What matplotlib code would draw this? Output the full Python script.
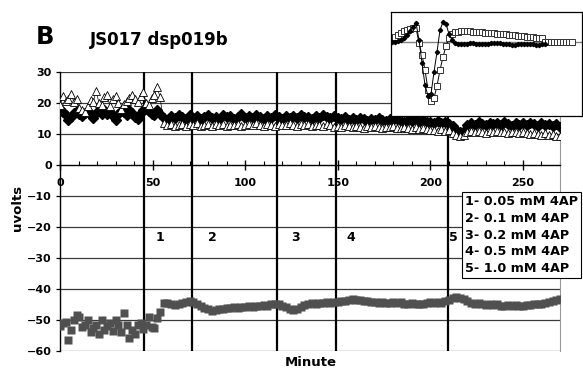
import numpy as np
import matplotlib
matplotlib.use("Agg")
import matplotlib.pyplot as plt
from matplotlib.ticker import MultipleLocator

plt.rcParams["font.family"] = ["DejaVu Sans"]
plt.rcParams["font.weight"] = "bold"

# sampling times (minutes): sparser before drug, then every 2 min
minutes_pre = np.arange(0, 55, 1.5)
minutes_post = np.arange(56, 271, 2)

diamonds_pre = [18.0, 17.2, 16.0, 14.6, 15.5, 16.8, 17.5, 16.4, 15.8, 16.9,
                17.4, 16.2, 15.2, 16.7, 17.3, 16.5, 17.8, 16.3, 17.0, 15.9,
                14.5, 16.6, 17.4, 17.0, 16.1, 17.6, 16.8, 15.6, 14.8, 16.9,
                17.8, 18.2, 17.3, 16.4, 16.0, 17.7, 16.5]
diamonds_post = [15.2, 14.6, 15.8, 15.0, 16.2, 15.4, 14.8, 16.0, 15.3, 15.9,
                 14.7, 15.6, 16.1, 15.0, 15.5, 14.9, 16.0, 15.4, 15.8, 14.8,
                 15.6, 16.3, 15.1,
                 15.7, 15.0, 16.2, 15.4, 14.9, 15.8, 15.2, 16.0, 15.5, 14.8,
                 15.9, 15.3, 15.7, 15.0, 16.1, 15.4, 15.6, 14.9, 15.8, 15.2,
                 16.2, 15.5, 15.0, 15.7, 15.3,
                 14.8, 15.4, 14.6, 15.1, 14.4, 15.0, 14.7, 14.2, 14.9, 14.5,
                 15.2, 14.6, 14.1, 14.8, 14.4, 14.9, 14.3, 14.0, 14.6, 14.2,
                 14.7, 13.9, 14.4, 14.0, 13.8,
                 13.6, 14.1, 13.4, 13.9, 13.3, 12.6, 11.2, 10.6, 11.0, 12.8,
                 13.6, 13.0, 14.0, 13.3, 12.8, 13.7, 13.1, 13.5, 12.9, 13.8,
                 13.2, 12.7, 13.6, 13.0, 13.4, 12.8, 13.5, 13.1, 12.6, 13.4,
                 13.0, 13.3, 12.7, 13.2, 12.4]

triangles_pre = [19.2, 22.1, 20.5, 21.3, 23.0, 20.2, 21.4, 18.3, 17.6, 17.0,
                 19.0, 21.0, 20.4, 24.0, 20.1, 19.3, 21.8, 22.6, 19.0, 21.2,
                 22.3, 20.1, 18.1, 19.8, 20.6, 21.7, 22.5, 21.3, 20.4, 22.2,
                 23.4, 20.1, 19.2, 21.6, 22.7, 25.0, 22.0]
triangles_post = [13.4, 12.8, 13.2, 12.5, 13.0, 13.3, 12.6, 13.1, 12.9, 13.4,
                  12.7, 13.0, 13.2, 12.5, 13.1, 12.8, 13.3, 12.6, 13.0, 12.9,
                  13.2, 12.7, 13.0,
                  13.1, 12.8, 13.4, 12.9, 12.6, 13.2, 13.0, 12.7, 13.3, 12.8,
                  13.0, 13.4, 12.9, 12.6, 13.1, 12.8, 13.2, 12.7, 13.0, 12.9,
                  12.5, 13.1, 12.8, 12.4, 12.7,
                  12.3, 12.8, 12.5, 12.1, 12.6, 12.4, 12.0, 12.5, 12.2, 12.6,
                  12.3, 11.9, 12.4, 12.1, 12.5, 12.0, 11.8, 12.3, 12.0, 11.7,
                  12.1, 11.6, 11.9, 11.5, 11.3,
                  11.4, 11.0, 11.5, 10.9, 11.2, 10.4, 9.6, 9.2, 9.8, 10.8,
                  11.0, 10.6, 11.1, 10.7, 10.4, 10.9, 10.6, 11.0, 10.5, 10.8,
                  10.3, 10.7, 10.5, 10.2, 10.6, 10.3, 10.0, 10.4, 10.1, 9.8,
                  10.2, 9.7, 9.9, 9.5, 9.2]

squares_pre = [-52.0, -51.1, -50.6, -56.5, -53.2, -50.0, -48.4, -49.0, -52.4, -51.6,
               -50.0, -53.8, -52.5, -51.6, -54.5, -50.0, -53.2, -52.0, -51.0, -53.6,
               -50.0, -51.6, -53.8, -47.8, -51.6, -55.8, -53.2, -54.4, -51.6, -51.0,
               -53.0, -51.6, -49.0, -52.2, -52.6, -49.4, -47.3]
squares_post = [-44.5, -44.6, -44.9, -45.1, -44.8, -44.6, -44.2, -44.0, -44.3, -44.8,
                -45.4, -46.0, -46.6, -47.0,
                -46.7, -46.3, -46.5, -46.0, -46.2, -45.8, -46.0, -45.7, -45.9, -45.5,
                -45.7, -45.4, -45.6, -45.2, -45.4, -45.0, -44.8,
                -45.0, -45.4, -45.9, -46.3, -46.8, -46.4, -45.8, -45.3, -44.9, -44.6,
                -44.8, -44.4, -44.6, -44.2, -44.5, -44.1, -44.3,
                -44.0, -43.8, -43.5, -43.3, -43.6, -43.4, -43.8, -44.0, -44.3, -44.1,
                -44.4, -44.2, -44.6, -44.4, -44.2, -44.5, -44.3, -44.7, -44.9, -44.6,
                -44.8, -45.0, -44.7, -44.5, -44.3,
                -44.5, -44.2, -44.6, -44.0, -43.6, -43.0, -42.6, -42.8, -43.3, -43.9,
                -44.4, -44.8, -44.6, -44.9, -45.1, -44.8, -45.2, -45.0, -45.4, -45.6,
                -45.3, -45.5, -45.2, -45.6, -45.4, -45.1, -45.3, -45.0, -44.8, -45.0,
                -44.6, -44.3, -44.0, -43.6, -43.2]

# drug application times and labels
drug_times = [45.4, 71.1, 117.3, 148.9, 209.3]
drug_labels = ["1", "2", "3", "4", "5"]
drug_label_x = [54, 82.2, 127, 156.8, 212.3]
legend_lines = ["1- 0.05 mM 4AP", "2- 0.1 mM 4AP", "3- 0.2 mM 4AP",
                "4- 0.5 mM 4AP", "5- 1.0 mM 4AP"]

# inset waveform (arbitrary units, baseline = 0)
inset_black = [0, 0, 1, 2, 4, 7, 11, 15, 19, 2, -21, -43, -54, -52, -30, -10, 12, 20, 18, 8,
               2, -1, -2, -2, -2, -1.5, -1, -1, -1.5, -2, -2, -2, -1.5, -1, -0.5, -0.5,
               -1, -1.5, -2, -2, -2.5, -2.5, -2, -2, -1.5, -1.5, -2, -2, -2.5, -2.5, -2, -2]
inset_white = [3, 5, 7, 9, 11, 12, 13, 14, 14, -1, -13, -28, -48, -59, -56, -44, -28, -15, -4, 4,
               8, 10, 10.5, 11, 11,
               11, 11, 10.5, 10.5, 10, 10, 9.5, 9.5, 9, 9, 8.5, 8.5, 8, 8, 7.5, 7, 7, 6.5,
               6, 6, 5.5, 5, 5, 4.5, 4.5, 4,
               0.5, 0.5, 0.5, 0.5, 0.5, 0.5, 0.5, 0.5, 0.5, 0.5]

minutes = np.concatenate([minutes_pre, minutes_post])
diamonds = diamonds_pre + diamonds_post
triangles = triangles_pre + triangles_post
squares = squares_pre + squares_post

fig = plt.figure(figsize=(5.83, 3.79), dpi=100)
ax = fig.add_axes([60 / 583, 1 - 351 / 379, 500 / 583, 279 / 379])

ax.set_xlim(0, 270)
ax.set_ylim(-60, 30)

for yv in range(-60, 31, 10):
    if yv != 0:
        ax.axhline(yv, color="#3a3a3a", lw=0.9, zorder=1)
for t in drug_times:
    ax.axvline(t, color="black", lw=1.6, zorder=2)

ax.plot(minutes, diamonds, "D", ms=4.6, color="black", zorder=3)
ax.plot(minutes, triangles, "-^", ms=5.6, color="black", lw=0.5,
        mfc="white", mec="black", mew=0.6, zorder=4)
ax.plot(minutes, squares, "s", ms=5.4, color="#505050", mec="none", zorder=3)

for x, lab in zip(drug_label_x, drug_labels):
    ax.text(x, -23.3, lab, ha="center", va="center", fontsize=9, fontweight="bold")

ax.spines["top"].set_visible(False)
ax.spines["right"].set_color("#999999")
ax.spines["right"].set_linewidth(0.8)
ax.spines["bottom"].set_position(("data", 0))
ax.spines["bottom"].set_linewidth(1.0)
ax.spines["left"].set_linewidth(1.0)

ax.xaxis.set_major_locator(MultipleLocator(50))
ax.xaxis.set_minor_locator(MultipleLocator(10))
ax.yaxis.set_major_locator(MultipleLocator(10))
ax.tick_params(axis="x", which="major", direction="inout", length=7, width=1,
               pad=6, labelsize=8)
ax.tick_params(axis="x", which="minor", direction="in", length=3, width=0.8)
ax.tick_params(axis="y", direction="out", length=3, width=0.9, pad=3, labelsize=8)
for lbl in ax.get_xticklabels() + ax.get_yticklabels():
    lbl.set_fontweight("bold")

fig.text(18 / 583, 1 - 208 / 379, "uvolts", rotation=90, ha="center", va="center",
         fontsize=9.5, fontweight="bold")
fig.text(311 / 583, 1 - 363 / 379, "Minute", ha="center", va="center",
         fontsize=9.5, fontweight="bold")
fig.text(36 / 583, 1 - 44 / 379, "B", ha="left", va="baseline",
         fontsize=17.5, fontweight="bold")
fig.text(90 / 583, 1 - 45 / 379, "JS017 dsp019b", ha="left", va="baseline",
         fontsize=12, fontweight="bold")

fig.text(465 / 583, 1 - 195 / 379, "\n".join(legend_lines), ha="left", va="top",
         fontsize=9.2, fontweight="bold", linespacing=1.38,
         bbox=dict(boxstyle="square,pad=0.2", fc="white", ec="black", lw=0.8))

# inset with the averaged waveforms
ins = fig.add_axes([391 / 583, 1 - 116 / 379, 191 / 583, 104 / 379])
ins.axhline(0, color="#808080", lw=1.0, zorder=1)
ins.plot(np.arange(len(inset_white)), inset_white, "-s", color="black", lw=0.7,
         ms=4, mfc="white", mec="#333333", mew=0.7, zorder=2)
ins.plot(np.arange(len(inset_black)), inset_black, "-D", color="black", lw=0.7,
         ms=2.2, zorder=3)
ins.set_xlim(-1 / 3, 63.33)
ins.set_ylim(-74, 30)
ins.set_xticks([])
ins.set_yticks([])
for s in ins.spines.values():
    s.set_linewidth(0.9)

fig.savefig("out.png", dpi=100)
